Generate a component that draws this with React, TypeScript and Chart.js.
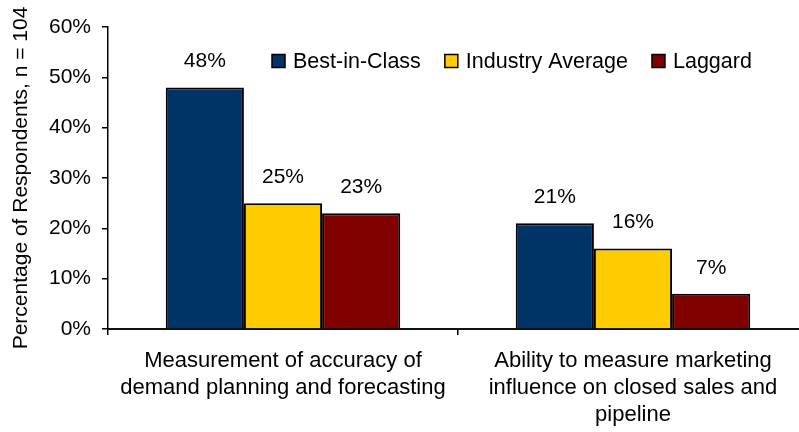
import React, { useEffect, useRef } from "react";
import { Chart, registerables } from "chart.js";

Chart.register(...registerables);

const categories: string[][] = [
  ["Measurement of accuracy of", "demand planning and forecasting"],
  ["Ability to measure marketing", "influence on closed sales and", "pipeline"],
];
const seriesNames = ["Best-in-Class", "Industry Average", "Laggard"];
const bestInClass = [48, 21];
const industryAverage = [25, 16];
const laggard = [23, 7];
const seriesColors = ["#003366", "#FFCC00", "#800000"];
const yTickValues = [0, 10, 20, 30, 40, 50, 60];
const yTitle = "Percentage of Respondents, n = 104";

const FONT = "'Liberation Sans', Arial, sans-serif";
const FS = 21;

const valueLabelPlugin = {
  id: "valueLabels",
  afterDatasetsDraw(chart: any) {
    const ctx = chart.ctx;
    ctx.save();
    ctx.font = `${FS}px ${FONT}`;
    ctx.fillStyle = "#000";
    ctx.textAlign = "center";
    ctx.textBaseline = "middle";
    chart.data.datasets.forEach((ds: any, i: number) => {
      const meta = chart.getDatasetMeta(i);
      meta.data.forEach((bar: any, j: number) => {
        ctx.fillText(ds.data[j] + "%", bar.x, bar.y - 26);
      });
    });
    ctx.restore();
  },
};

const legendPlugin = {
  id: "customLegend",
  afterDraw(chart: any) {
    const ctx = chart.ctx;
    const area = chart.chartArea;
    ctx.save();
    ctx.font = `21.5px ${FONT}`;
    ctx.textBaseline = "middle";
    ctx.textAlign = "left";
    let x = area.left + 164;
    const cy = area.top + 34;
    const box = 13;
    seriesNames.forEach((name, i) => {
      ctx.fillStyle = seriesColors[i];
      ctx.fillRect(x, cy - box / 2, box, box);
      ctx.strokeStyle = "#000";
      ctx.lineWidth = 1.5;
      ctx.strokeRect(x, cy - box / 2, box, box);
      ctx.fillStyle = "#000";
      const tx = x + box + 8;
      ctx.fillText(name, tx, cy + 1);
      x = tx + ctx.measureText(name).width + 24;
    });
    ctx.restore();
  },
};

export default function App() {
  const ref = useRef<HTMLCanvasElement | null>(null);

  useEffect(() => {
    if (!ref.current) return;
    const chart = new Chart(ref.current, {
      type: "bar",
      data: {
        labels: categories,
        datasets: [
          { label: seriesNames[0], data: bestInClass, backgroundColor: seriesColors[0] },
          { label: seriesNames[1], data: industryAverage, backgroundColor: seriesColors[1] },
          { label: seriesNames[2], data: laggard, backgroundColor: seriesColors[2] },
        ].map((d) => ({
          ...d,
          borderColor: "#000",
          borderWidth: 2,
          categoryPercentage: 0.67,
          barPercentage: 1,
        })),
      },
      options: {
        responsive: false,
        animation: false,
        layout: { padding: { top: 27, left: 0, right: 0, bottom: 0 } },
        plugins: {
          legend: { display: false },
          tooltip: { enabled: false },
        },
        scales: {
          x: {
            grid: {
              drawOnChartArea: false,
              drawTicks: true,
              tickLength: 6,
              color: "#000",
              lineWidth: 1.5,
              offset: true,
            },
            border: { display: true, color: "#111", width: 2 },
            ticks: {
              color: "#000",
              font: { family: FONT, size: 22, lineHeight: 1.23 },
              padding: 12,
              maxRotation: 0,
              autoSkip: false,
            },
            afterFit(scale: any) {
              scale.height = 103;
            },
          },
          y: {
            min: 0,
            max: 60,
            afterBuildTicks(scale: any) {
              scale.ticks = yTickValues.map((v) => ({ value: v }));
            },
            grid: {
              drawOnChartArea: false,
              drawTicks: true,
              tickLength: 6,
              color: "#000",
              lineWidth: 1.5,
            },
            border: { display: true, color: "#000", width: 1.5 },
            ticks: {
              color: "#000",
              font: { family: FONT, size: FS },
              padding: 11,
              callback: (v: any) => v + "%",
            },
            title: {
              display: true,
              text: yTitle,
              color: "#000",
              font: { family: FONT, size: FS },
              padding: { top: 9, bottom: 0 },
            },
            afterFit(scale: any) {
              scale.width = 108;
            },
          },
        },
      },
      plugins: [valueLabelPlugin, legendPlugin],
    });
    return () => chart.destroy();
  }, []);

  return (
    <div
      style={{
        position: "fixed",
        left: 0,
        top: 0,
        width: 799,
        height: 432,
        overflow: "hidden",
        background: "#fff",
      }}
    >
      <canvas ref={ref} width={808} height={432} style={{ display: "block" }} />
    </div>
  );
}
